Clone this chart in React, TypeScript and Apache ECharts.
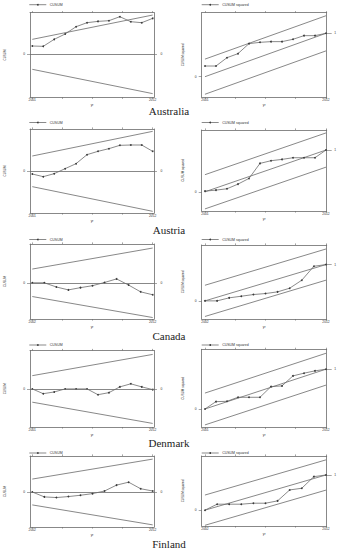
import React, { useEffect, useRef } from "react";
import * as echarts from "echarts";

const countries = ["Australia", "Austria", "Canada", "Denmark", "Finland"];
const firstYears = [2001, 2001, 2002, 2001, 2002];
const lastYear = 2012;

// CUSUM values (arbitrary units)
const cusumAustralia = [2.5, 2.4, 4.5, 6.1, 8.3, 9.5, 9.9, 10.1, 11.3, 9.8, 9.5, 10.8];
const cusumAustria = [-0.8, -1.6, -0.7, 0.8, 2.3, 5.0, 6.0, 6.8, 7.8, 7.9, 7.9, 6.0];
const cusumCanada = [0, 0, -1.3, -2.2, -1.5, -0.9, 0.1, 1.2, -0.7, -2.8, -3.7];
const cusumDenmark = [0, -1.4, -0.9, 0, 0, 0, -1.7, -1.1, 0.6, 1.5, 0.6, -0.2];
const cusumFinland = [0, -1.5, -1.7, -1.4, -1.0, -0.5, 0.3, 2.1, 3.0, 1.0, 0.3];
const cusumBoundStart = [4.5, 4.6, 4.25, 3.9, 3.95];
const cusumBoundEnd = [11.8, 12.0, 10.75, 10.15, 10.05];
const cusumAxisMin = [-12.9, -12.5, -11.2, -11.2, -10.7];
const cusumAxisMax = [12.5, 12.7, 12, 11.3, 11];

// CUSUM squared values
const sqAustralia = [0.246, 0.246, 0.438, 0.531, 0.762, 0.792, 0.808, 0.808, 0.862, 0.946, 0.946, 1.0];
const sqAustria = [0.016, 0.04, 0.072, 0.184, 0.32, 0.68, 0.744, 0.776, 0.816, 0.816, 0.816, 1.0];
const sqCanada = [0, 0, 0.083, 0.128, 0.174, 0.202, 0.248, 0.349, 0.569, 0.954, 1.0];
const sqDenmark = [0, 0.185, 0.193, 0.294, 0.294, 0.294, 0.563, 0.58, 0.832, 0.9, 0.958, 1.0];
const sqFinland = [0, 0.17, 0.17, 0.17, 0.198, 0.198, 0.264, 0.575, 0.623, 0.953, 1.0];
const sqBand = [0.405, 0.41, 0.43, 0.4, 0.43];
const sqAxisMin = [-0.475, -0.46, -0.5, -0.46, -0.45];
const sqAxisMax = [1.475, 1.48, 1.54, 1.5, 1.54];

const cusumSeries = [cusumAustralia, cusumAustria, cusumCanada, cusumDenmark, cusumFinland];
const sqSeries = [sqAustralia, sqAustria, sqCanada, sqDenmark, sqFinland];
const seriesNames = ["CUSUM", "CUSUM squared"];

// layout (px)
const leftBoxes = [[12.7, 97.3], [129, 213], [244, 319], [350.5, 427], [456, 527]];
const rightBoxes = [[12.7, 97.3], [130, 211], [245, 319], [349.3, 427.3], [456, 526]];
const legendYs = [4.7, 122.5, 239.5, 345, 453];
const labelYs = [111, 230, 336, 443, 544];

const SANS = '"Liberation Sans", Arial, sans-serif';
const INK = "#333";
const LINE = "#6a6a6a";
const DATA = "#3a3a3a";

function buildOption() {
  const grid: any[] = [];
  const xAxis: any[] = [];
  const yAxis: any[] = [];
  const series: any[] = [];
  const graphic: any[] = [];
  const small = { fontSize: 3.3, color: INK, fontFamily: SANS };

  for (let r = 0; r < 5; r++) {
    const s = firstYears[r];
    const span = lastYear - s;
    const ticks = [0, 1, 2, 3, 4].map((k) => s + (span * k) / 4);
    for (let side = 0; side < 2; side++) {
      const gi = grid.length;
      const box = side === 0 ? leftBoxes[r] : rightBoxes[r];
      const left = side === 0 ? 30 : 201.7;
      const width = side === 0 ? 124 : 125;
      grid.push({
        left,
        top: box[0],
        width,
        height: box[1] - box[0],
        containLabel: false,
        outerBoundsMode: "none",
        show: false,
      });
      const xmin = side === 0 ? s - 0.019 * span : s - 0.027 * span;
      const xmax = side === 0 ? lastYear + 0.011 * span : lastYear + 0.006 * span;
      const axisLine = { show: true, onZero: false, lineStyle: { color: LINE, width: 0.8 } };
      const tickStyle = { color: LINE, width: 0.6 };
      xAxis.push({
        type: "value",
        gridIndex: gi,
        min: xmin,
        max: xmax,
        position: "bottom",
        axisLine,
        axisTick: { show: true, length: 1.6, customValues: ticks, lineStyle: tickStyle },
        axisLabel: {
          show: true,
          customValues: [s, lastYear],
          margin: 1.4,
          ...small,
          formatter: (v: number) => String(Math.round(v)),
        },
        splitLine: { show: false },
        name: "yr",
        nameLocation: "middle",
        nameGap: 6,
        nameTextStyle: small,
      });
      xAxis.push({
        type: "value",
        gridIndex: gi,
        min: xmin,
        max: xmax,
        position: "top",
        axisLine,
        axisTick: { show: true, length: 1.6, customValues: ticks, lineStyle: tickStyle },
        axisLabel: { show: false },
        splitLine: { show: false },
      });
      const ymin = side === 0 ? cusumAxisMin[r] : sqAxisMin[r];
      const ymax = side === 0 ? cusumAxisMax[r] : sqAxisMax[r];
      yAxis.push({
        type: "value",
        gridIndex: gi,
        min: ymin,
        max: ymax,
        position: "left",
        axisLine,
        axisTick: { show: true, length: 3, customValues: [0], lineStyle: tickStyle },
        axisLabel: { show: true, customValues: [0], margin: 5, ...small, formatter: (v: number) => String(v) },
        splitLine: { show: false },
        name: seriesNames[side],
        nameLocation: "middle",
        nameRotate: 90,
        nameGap: side === 0 ? 24.3 : 18,
        nameTextStyle: { ...small, fontSize: 3 },
      });
      yAxis.push({
        type: "value",
        gridIndex: gi,
        min: ymin,
        max: ymax,
        position: "right",
        axisLine,
        axisTick: {
          show: true,
          length: side === 0 ? 3 : 5,
          customValues: [side === 0 ? 0 : 1],
          lineStyle: tickStyle,
        },
        axisLabel: {
          show: true,
          customValues: [side === 0 ? 0 : 1],
          margin: side === 0 ? 6.5 : 7.6,
          ...small,
          formatter: (v: number) => String(v),
        },
        splitLine: { show: false },
      });

      const xi = 2 * gi;
      const yi = 2 * gi;
      const vals = side === 0 ? cusumSeries[r] : sqSeries[r];
      const name = seriesNames[side];
      const boundStyle = { color: LINE, width: 0.8 };
      series.push({
        type: "line",
        name,
        xAxisIndex: xi,
        yAxisIndex: yi,
        data: vals.map((v, k) => [s + k, v]),
        symbol: "circle",
        symbolSize: 1.8,
        showSymbol: true,
        silent: true,
        lineStyle: { color: DATA, width: 0.6 },
        itemStyle: { color: DATA },
        z: 3,
        markLine:
          side === 0
            ? {
                silent: true,
                symbol: "none",
                label: { show: false },
                lineStyle: { color: LINE, width: 0.8, type: "solid" },
                data: [{ yAxis: 0 }],
              }
            : undefined,
      });
      if (side === 0) {
        const b0 = cusumBoundStart[r];
        const b1 = cusumBoundEnd[r];
        [1, -1].forEach((sg) =>
          series.push({
            type: "line",
            name: "bound",
            xAxisIndex: xi,
            yAxisIndex: yi,
            data: [[s, sg * b0], [lastYear, sg * b1]],
            symbol: "none",
            silent: true,
            lineStyle: boundStyle,
          })
        );
      } else {
        const c = sqBand[r];
        [0, c, -c].forEach((off) =>
          series.push({
            type: "line",
            name: "bound",
            xAxisIndex: xi,
            yAxisIndex: yi,
            data: [[s, off], [lastYear, 1 + off]],
            symbol: "none",
            silent: true,
            lineStyle: boundStyle,
          })
        );
      }
      // legend key (line with marker + text)
      const lx = side === 0 ? 29.3 : 201.7;
      const ly = legendYs[r];
      graphic.push({
        type: "group",
        silent: true,
        children: [
          {
            type: "line",
            shape: { x1: lx, y1: ly, x2: lx + 17, y2: ly },
            style: { stroke: DATA, lineWidth: 0.6 },
          },
          {
            type: "circle",
            shape: { cx: lx + 8.5, cy: ly, r: 0.9 },
            style: { fill: DATA },
          },
          {
            type: "text",
            x: lx + 20.5,
            y: ly,
            style: {
              text: name,
              fontSize: 3.5,
              fontFamily: SANS,
              fill: INK,
              textAlign: "left",
              textVerticalAlign: "middle",
            },
          },
        ],
      });
    }
    graphic.push({
      type: "text",
      x: 169,
      y: labelYs[r],
      silent: true,
      style: {
        text: countries[r],
        fontSize: 11,
        fontFamily: '"Liberation Serif", "DejaVu Serif", serif',
        fill: "#222",
        textAlign: "center",
        textVerticalAlign: "middle",
      },
    });
  }

  return {
    animation: false,
    backgroundColor: "#ffffff",
    grid,
    xAxis,
    yAxis,
    series,
    graphic,
  };
}

export default function App() {
  const ref = useRef<HTMLDivElement>(null);
  useEffect(() => {
    if (!ref.current) return;
    const chart = echarts.init(ref.current, undefined, { renderer: "svg" });
    chart.setOption(buildOption() as any);
    return () => chart.dispose();
  }, []);
  return (
    <div
      ref={ref}
      style={{ position: "absolute", left: 0, top: 0, width: 340, height: 550, background: "#fff" }}
    />
  );
}
